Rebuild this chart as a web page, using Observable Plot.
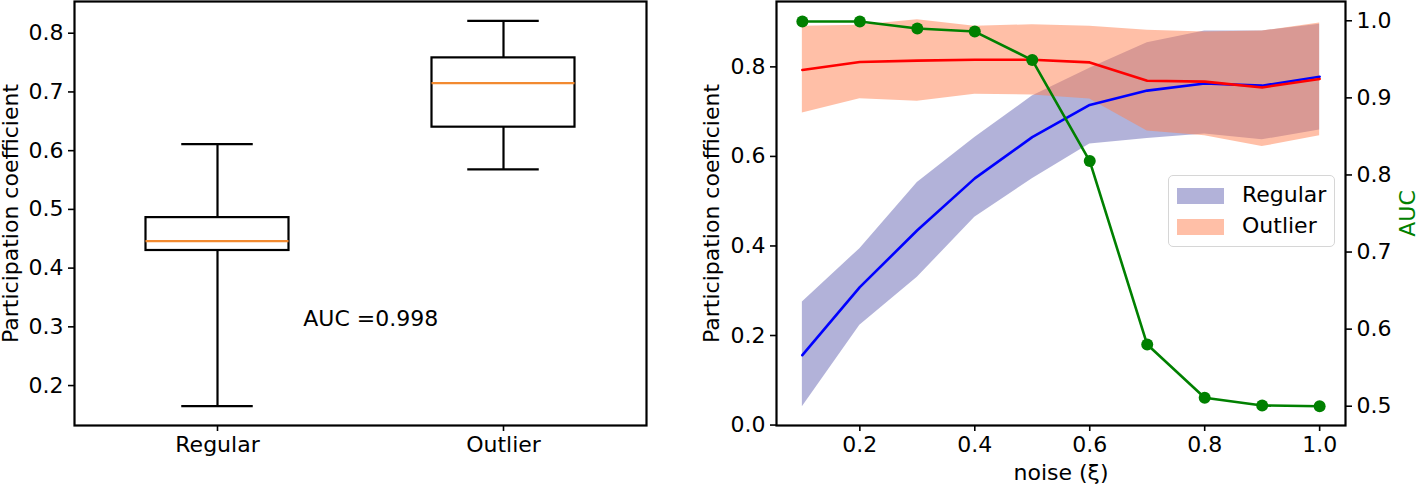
<!DOCTYPE html>
<html>
<head>
<meta charset="utf-8">
<script src="https://cdn.jsdelivr.net/npm/d3@7"></script>
<script src="https://cdn.jsdelivr.net/npm/@observablehq/plot@0.6"></script>
<style>
  html, body { margin: 0; padding: 0; background: #fff; }
  #wrap { position: relative; width: 1417px; height: 486px; font-family: "DejaVu Sans", sans-serif; }
  #wrap > div.panel { position: absolute; top: 0; }
  #legend { position: absolute; left: 1168px; top: 175px; width: 167px; height: 72px; box-sizing: border-box;
    border: 1.2px solid #d6d6d6; border-radius: 5px; background: rgba(255,255,255,0.8); font-size: 22px; color: #000; }
  #legend .row { position: absolute; left: 8px; height: 17px; }
  #legend .sw { position: absolute; left: 0; top: 0; width: 47px; height: 16px; }
  #legend .lab { position: absolute; left: 65px; top: -6px; white-space: nowrap; line-height: 26px; }
</style>
</head>
<body>
<div id="wrap">
  <div class="panel" id="left" style="left:0px"></div>
  <div class="panel" id="right" style="left:700px"></div>
  <div id="legend"></div>
  <div class="panel" id="right2" style="left:700px"></div>
</div>
<script>
// ---------- Left panel: box plot ----------
const categories = ["Regular", "Outlier"];
const whiskerLow  = [0.165, 0.568];
const q1          = [0.430, 0.640];
const medians     = [0.446, 0.715];
const q3          = [0.486, 0.758];
const whiskerHigh = [0.611, 0.821];
const aucAnnotation = "AUC =0.998";
const leftYTicks = [0.2, 0.3, 0.4, 0.5, 0.6, 0.7, 0.8];

// ---------- Right panel: noise sweep ----------
const noise       = [0.1, 0.2, 0.3, 0.4, 0.5, 0.6, 0.7, 0.8, 0.9, 1.0];
const regularMean = [0.156, 0.308, 0.435, 0.551, 0.643, 0.715, 0.747, 0.763, 0.758, 0.778];
const regularLow  = [0.041, 0.223, 0.330, 0.464, 0.550, 0.628, 0.640, 0.650, 0.637, 0.659];
const regularHigh = [0.275, 0.394, 0.542, 0.642, 0.735, 0.797, 0.854, 0.880, 0.880, 0.895];
const outlierMean = [0.793, 0.811, 0.814, 0.816, 0.816, 0.810, 0.769, 0.767, 0.754, 0.773];
const outlierLow  = [0.697, 0.729, 0.723, 0.739, 0.737, 0.728, 0.657, 0.646, 0.622, 0.646];
const outlierHigh = [0.891, 0.893, 0.905, 0.891, 0.894, 0.891, 0.882, 0.878, 0.880, 0.898];
const auc         = [0.999, 0.999, 0.990, 0.986, 0.949, 0.818, 0.580, 0.511, 0.501, 0.500];
const xTicks = [0.2, 0.4, 0.6, 0.8, 1.0];
const pcTicks = [0.0, 0.2, 0.4, 0.6, 0.8];
const aucTicks = [0.5, 0.6, 0.7, 0.8, 0.9, 1.0];

const FONT = {fontFamily: "DejaVu Sans, sans-serif", fontSize: "22px", color: "#000", background: "transparent", overflow: "visible"};
const BOXW = 0.25; // half box width in category units
const CAPW = 0.125;

const boxRows = categories.map((c, i) => ({
  pos: i + 1, name: c, lo: whiskerLow[i], q1: q1[i], med: medians[i], q3: q3[i], hi: whiskerHigh[i]
}));

const left = Plot.plot({
  width: 700, height: 486,
  marginLeft: 74, marginRight: 54, marginTop: 1, marginBottom: 61,
  style: FONT,
  x: {type: "linear", domain: [0.5, 2.5]},
  y: {domain: [0.132, 0.854]},
  marks: [
    Plot.ruleX(boxRows, {x: "pos", y1: "q3", y2: "hi", stroke: "#000", strokeWidth: 2.2}),
    Plot.ruleX(boxRows, {x: "pos", y1: "lo", y2: "q1", stroke: "#000", strokeWidth: 2.2}),
    Plot.ruleY(boxRows, {y: "hi", x1: d => d.pos - CAPW, x2: d => d.pos + CAPW, stroke: "#000", strokeWidth: 2.2}),
    Plot.ruleY(boxRows, {y: "lo", x1: d => d.pos - CAPW, x2: d => d.pos + CAPW, stroke: "#000", strokeWidth: 2.2}),
    Plot.rect(boxRows, {x1: d => d.pos - BOXW, x2: d => d.pos + BOXW, y1: "q1", y2: "q3", fill: "none", stroke: "#000", strokeWidth: 2.2}),
    Plot.ruleY(boxRows, {y: "med", x1: d => d.pos - BOXW, x2: d => d.pos + BOXW, stroke: "#f28a30", strokeWidth: 2.2}),
    Plot.text([aucAnnotation], {x: 1.3, y: 0.3, text: d => d, textAnchor: "start", lineAnchor: "middle", dy: -8, fill: "#000", fontSize: 22}),
    Plot.axisY({ticks: leftYTicks, tickFormat: d3.format(".1f"), tickSize: 6, tickPadding: 5, strokeWidth: 1.6, label: null}),
    Plot.axisX({ticks: [1, 2], tickFormat: d => categories[d - 1], tickSize: 6, tickPadding: 5, strokeWidth: 1.6, label: null}),
    Plot.text(["Participation coefficient"], {frameAnchor: "left", dx: -64, rotate: -90, textAnchor: "middle", lineAnchor: "middle", fill: "#000", fontSize: 22}),
    Plot.frame({stroke: "#000", strokeWidth: 2.2})
  ]
});
document.getElementById("left").appendChild(left);

const sweepRows = noise.map((x, i) => ({
  x, rm: regularMean[i], rl: regularLow[i], rh: regularHigh[i],
  om: outlierMean[i], ol: outlierLow[i], oh: outlierHigh[i], auc: auc[i]
}));

const right = Plot.plot({
  width: 717, height: 486,
  marginLeft: 76, marginRight: 72, marginTop: 1, marginBottom: 61,
  style: FONT,
  x: {domain: [0.055, 1.045]},
  y: {domain: [-0.001, 0.946]},
  marks: [
    Plot.areaY(sweepRows, {x: "x", y1: "rl", y2: "rh", fill: "#000080", fillOpacity: 0.3}),
    Plot.areaY(sweepRows, {x: "x", y1: "ol", y2: "oh", fill: "#ff7f50", fillOpacity: 0.5}),
    Plot.line(sweepRows, {x: "x", y: "rm", stroke: "#0000ff", strokeWidth: 2.6}),
    Plot.line(sweepRows, {x: "x", y: "om", stroke: "#ff0000", strokeWidth: 2.6}),
    Plot.axisY({ticks: pcTicks, tickFormat: d3.format(".1f"), tickSize: 6, tickPadding: 5, strokeWidth: 1.6, label: null}),
    Plot.axisX({ticks: xTicks, tickFormat: d3.format(".1f"), tickSize: 6, tickPadding: 5, strokeWidth: 1.6, label: null}),
    Plot.text(["Participation coefficient"], {frameAnchor: "left", dx: -64.5, rotate: -90, textAnchor: "middle", lineAnchor: "middle", fill: "#000", fontSize: 22}),
    Plot.text(["noise (ξ)"], {frameAnchor: "bottom", dy: 47, textAnchor: "middle", lineAnchor: "middle", fill: "#000", fontSize: 22})
  ]
});
document.getElementById("right").appendChild(right);

// legend
const legendColors = ["rgba(0,0,128,0.3)", "rgba(255,127,80,0.5)"];
const legend = document.getElementById("legend");
categories.forEach((c, i) => {
  const row = document.createElement("div");
  row.className = "row";
  row.style.top = (i === 0 ? 12 : 43) + "px";
  row.innerHTML = `<div class="sw" style="background:${legendColors[i]}"></div><div class="lab">${c}</div>`;
  legend.appendChild(row);
});

const right2 = Plot.plot({
  width: 717, height: 486,
  marginLeft: 76, marginRight: 72, marginTop: 1, marginBottom: 61,
  style: FONT,
  x: {domain: [0.055, 1.045], axis: null},
  y: {domain: [0.475, 1.025], axis: null},
  marks: [
    Plot.line(sweepRows, {x: "x", y: "auc", stroke: "#008000", strokeWidth: 2.6}),
    Plot.dot(sweepRows, {x: "x", y: "auc", r: 6, fill: "#008000", stroke: "none"}),
    Plot.axisY({anchor: "right", ticks: aucTicks, tickFormat: d3.format(".1f"), tickSize: 6, tickPadding: 5, strokeWidth: 1.6, label: null}),
    Plot.text(["AUC"], {frameAnchor: "right", dx: 62, rotate: -90, textAnchor: "middle", lineAnchor: "middle", fill: "#008000", fontSize: 22}),
    Plot.frame({stroke: "#000", strokeWidth: 2.2})
  ]
});
document.getElementById("right2").appendChild(right2);
</script>
</body>
</html>
